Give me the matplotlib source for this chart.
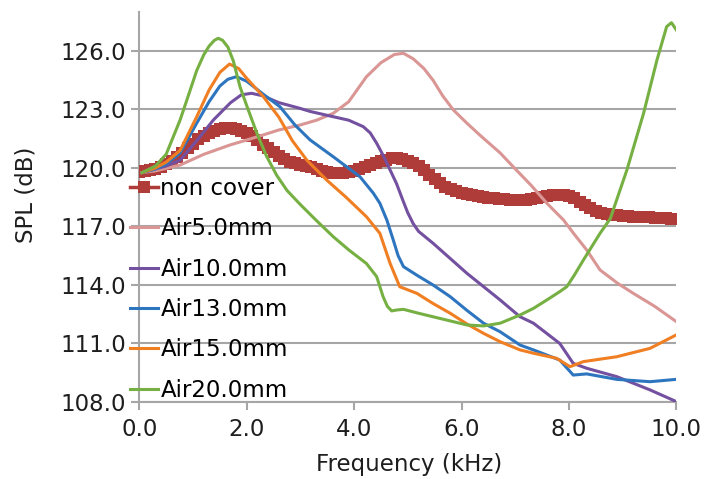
import numpy as np
import matplotlib
matplotlib.use("Agg")
import matplotlib.pyplot as plt

plt.rcParams['font.family'] = ['DejaVu Sans']

# non cover: sampled every 0.1 kHz
freq_nc = np.round(np.arange(0, 10.01, 0.1), 1)
spl_nc = [119.80, 119.83, 119.88, 119.96, 120.07, 120.20, 120.36, 120.55, 120.78, 121.00,
          121.25, 121.47, 121.65, 121.80, 121.92, 121.99, 122.03, 122.04, 122.00, 121.92,
          121.80, 121.63, 121.43, 121.20, 121.00, 120.80, 120.60, 120.45, 120.33, 120.24,
          120.17, 120.10, 120.03, 119.95, 119.87, 119.80, 119.75, 119.73, 119.74, 119.78,
          119.85, 119.95, 120.05, 120.15, 120.25, 120.35, 120.43, 120.49, 120.50, 120.47,
          120.38, 120.25, 120.10, 119.90, 119.65, 119.42, 119.22, 119.05, 118.92, 118.82,
          118.74, 118.68, 118.62, 118.57, 118.52, 118.48, 118.45, 118.42, 118.40, 118.38,
          118.37, 118.37, 118.38, 118.40, 118.44, 118.50, 118.56, 118.60, 118.62, 118.62,
          118.57, 118.45, 118.28, 118.10, 117.93, 117.79, 117.70, 117.64, 117.60, 117.57,
          117.55, 117.53, 117.51, 117.50, 117.48, 117.47, 117.45, 117.44, 117.42, 117.40,
          117.38]

freq_a5 = [0.05, 0.3, 0.76, 1.2, 1.69, 2.2, 2.6, 2.99, 3.3, 3.61, 3.9, 4.23, 4.5, 4.75, 4.92,
           5.1, 5.3, 5.47, 5.65, 5.85, 6.1, 6.34, 6.72, 6.96, 7.3, 7.59, 7.9, 8.1, 8.33, 8.58,
           8.9, 9.2, 9.6, 10.0]
spl_a5 = [119.76, 119.85, 120.15, 120.7, 121.18, 121.6, 121.95, 122.2, 122.45, 122.8, 123.4,
          124.68, 125.4, 125.82, 125.88, 125.6, 125.1, 124.5, 123.7, 122.97, 122.3, 121.69,
          120.77, 120.07, 119.1, 118.19, 117.33, 116.6, 115.8, 114.77, 114.1, 113.57, 112.9,
          112.12]

freq_a10 = [0.05, 0.3, 0.5, 0.76, 1.07, 1.38, 1.7, 1.9, 2.09, 2.3, 2.6, 2.99, 3.18, 3.61, 3.9,
            4.17, 4.3, 4.42, 4.55, 4.67, 4.79, 4.9, 5.0, 5.1, 5.2, 5.47, 6.1, 6.72, 7.09, 7.34,
            7.83, 8.08, 8.33, 8.89, 9.51, 10.0]
spl_a10 = [119.76, 119.95, 120.1, 120.4, 121.4, 122.46, 123.35, 123.75, 123.83, 123.7, 123.35,
           123.06, 122.9, 122.63, 122.45, 122.12, 121.8, 121.27, 120.6, 119.9, 119.2, 118.4,
           117.7, 117.15, 116.75, 116.14, 114.6, 113.23, 112.37, 112.04, 111.0, 109.98, 109.73,
           109.3, 108.62, 108.02]

freq_a13 = [0.05, 0.3, 0.5, 0.76, 1.07, 1.3, 1.5, 1.65, 1.81, 2.0, 2.3, 2.62, 2.9, 3.18, 3.61,
            4.11, 4.36, 4.48, 4.61, 4.73, 4.82, 4.92, 5.17, 5.47, 5.79, 6.1, 6.41, 6.72, 7.09,
            7.34, 7.83, 8.08, 8.33, 8.89, 9.51, 10.0]
spl_a13 = [119.76, 119.95, 120.2, 120.77, 122.3, 123.4, 124.2, 124.55, 124.68, 124.45, 123.8,
           123.14, 122.2, 121.44, 120.58, 119.55, 118.7, 118.19, 117.33, 116.3, 115.5, 114.94,
           114.5, 114.0, 113.4, 112.7, 112.04, 111.6, 110.92, 110.67, 110.15, 109.38, 109.44,
           109.16, 109.04, 109.16]

freq_a15 = [0.05, 0.3, 0.5, 0.76, 1.07, 1.3, 1.5, 1.68, 1.85, 2.0, 2.31, 2.6, 2.85, 3.12, 3.49,
            3.85, 4.23, 4.48, 4.67, 4.85, 5.17, 5.47, 5.79, 6.1, 6.41, 6.72, 7.09, 7.34, 7.77,
            8.02, 8.27, 8.89, 9.51, 10.0]
spl_a15 = [119.76, 120.0, 120.3, 120.9, 122.63, 124.0, 124.9, 125.33, 125.1, 124.6, 123.66,
           122.6, 121.4, 120.4, 119.38, 118.5, 117.5, 116.65, 115.11, 113.91, 113.57, 113.05,
           112.55, 112.0, 111.52, 111.09, 110.67, 110.5, 110.24, 109.81, 110.07, 110.32, 110.75,
           111.44]

freq_a20 = [0.05, 0.3, 0.5, 0.76, 0.9, 1.07, 1.2, 1.3, 1.4, 1.47, 1.55, 1.65, 1.75, 1.875, 2.0,
            2.19, 2.37, 2.56, 2.75, 2.99, 3.3, 3.61, 3.9, 4.23, 4.42, 4.54, 4.62, 4.7, 4.8, 4.92,
            5.2, 5.47, 5.8, 6.1, 6.41, 6.72, 7.09, 7.34, 7.6, 7.83, 7.96, 8.1, 8.27, 8.58, 8.77,
            9.08, 9.39, 9.64, 9.82, 9.91, 10.0]
spl_a20 = [119.76, 120.1, 120.7, 122.46, 123.6, 125.0, 125.8, 126.25, 126.55, 126.65, 126.55,
           126.2, 125.5, 124.17, 123.2, 121.78, 120.6, 119.62, 118.85, 118.15, 117.3, 116.48,
           115.8, 115.1, 114.43, 113.4, 112.9, 112.67, 112.72, 112.75, 112.55, 112.37, 112.15,
           111.95, 111.9, 112.04, 112.46, 112.8, 113.25, 113.66, 113.91, 114.5, 115.28, 116.65,
           117.4, 119.9, 122.8, 125.54, 127.25, 127.45, 127.08]

fig = plt.figure(figsize=(7.07, 4.79), dpi=100)
ax = fig.add_axes([0.197, 0.1608, 0.7596, 0.8142])

ax.plot(freq_nc, spl_nc, color='#B03C3A', marker='s', markersize=8.8, lw=2.5,
        markeredgewidth=0, label='non cover', zorder=3)
ax.plot(freq_a5, spl_a5, color='#D99694', lw=2.2, label='Air5.0mm', zorder=4)
ax.plot(freq_a10, spl_a10, color='#7350A0', lw=2.2, label='Air10.0mm', zorder=4)
ax.plot(freq_a13, spl_a13, color='#2E75C0', lw=2.2, label='Air13.0mm', zorder=4)
ax.plot(freq_a15, spl_a15, color='#F07E22', lw=2.2, label='Air15.0mm', zorder=4)
ax.plot(freq_a20, spl_a20, color='#76B043', lw=2.2, label='Air20.0mm', zorder=4)

ax.set_xlim(0, 10)
ax.set_ylim(108, 128)
ax.set_xticks(np.arange(0, 10.1, 2))
ax.set_yticks(np.arange(108, 126.1, 3))
ax.xaxis.set_major_formatter(matplotlib.ticker.FormatStrFormatter('%.1f'))
ax.yaxis.set_major_formatter(matplotlib.ticker.FormatStrFormatter('%.1f'))
ax.grid(axis='y', color='#A6A6A6', lw=1.5, zorder=1)
ax.set_axisbelow(True)

for s in ['top', 'right']:
    ax.spines[s].set_visible(False)
for s in ['left', 'bottom']:
    ax.spines[s].set_color('#A6A6A6')
    ax.spines[s].set_linewidth(1.5)
ax.tick_params(axis='both', colors='#A6A6A6', width=1.5, length=5.5,
               labelsize=16.5, labelcolor='#1E1E1E')
ax.tick_params(axis='y', pad=4)
ax.tick_params(axis='x', pad=6)

ax.set_xlabel('Frequency (kHz)', fontsize=16.5, color='#1E1E1E')
ax.set_ylabel('SPL (dB)', fontsize=16.5, color='#1E1E1E')
ax.xaxis.set_label_coords(0.502, -0.13)
ax.yaxis.set_label_coords(-0.189, 0.53)

fig.legend(loc='upper left', bbox_to_anchor=(0.184, 0.631), frameon=False,
           fontsize=16.5, handlelength=1.22, handletextpad=0.1, labelspacing=0.76,
           borderpad=0, borderaxespad=0, numpoints=1)

fig.savefig('out.png', dpi=100)
